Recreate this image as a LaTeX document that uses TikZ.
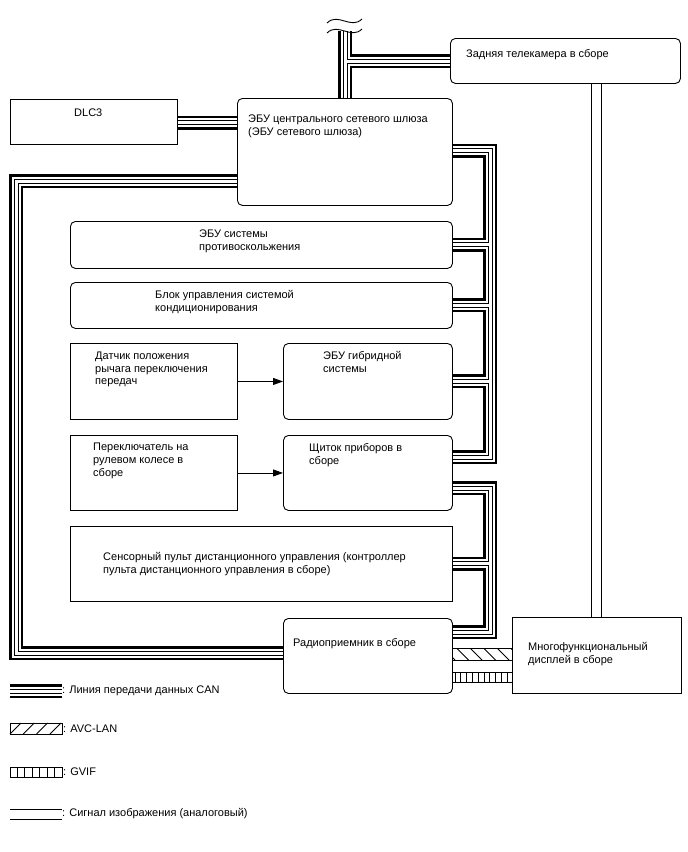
\documentclass[tikz,border=0pt]{standalone}
\usepackage{fontspec}
\setmainfont{Liberation Sans}
\usetikzlibrary{arrows.meta, positioning, calc, backgrounds}

% CAN line: drawn in four layers so that branches merge into the trunk
\newcommand{\canbus}[1]{%
  \draw[canA] #1; \draw[canB] #1; \draw[canC] #1; \draw[canD] #1;}

\begin{document}
\begin{tikzpicture}[x=1pt, y=-1pt,
    box/.style={draw, line width=0.9pt, fill=white, inner sep=0pt, anchor=north west},
    rbox/.style={box, rounded corners=5pt},
    txt/.style={anchor=north west, inner sep=0pt, align=left, font=\fontsize{11}{12.8}\selectfont},
    arr/.style={-{Triangle[length=10pt, width=7pt]}, line width=0.9pt},
    canA/.style={line width=14pt, line join=miter},
    canB/.style={line width=9pt, white, line join=miter},
    canC/.style={line width=5pt, line join=miter},
    canD/.style={line width=3pt, white, line join=miter},
    video/.style={double, double distance=9pt, line width=1pt},
    band/.style={line width=0.9pt}
  ]
  \useasboundingbox (0,0) rectangle (688,852);

  % units
  \node[rbox, minimum width=230pt, minimum height=45pt] (cam) at (450,38) {};
  \node[box, minimum width=167pt, minimum height=45pt] (dlc) at (10,99) {};
  \node[rbox, minimum width=215pt, minimum height=107pt] (gw) at (237,98) {};
  \node[rbox, minimum width=382pt, minimum height=47pt] (abs) at (70,221) {};
  \node[rbox, minimum width=382pt, minimum height=46pt] (ac) at (70,282) {};
  \node[box, minimum width=167pt, minimum height=76pt] (shift) at (70,343) {};
  \node[rbox, minimum width=169pt, minimum height=76pt] (hyb) at (283,343) {};
  \node[box, minimum width=167pt, minimum height=75pt] (steer) at (70,435) {};
  \node[rbox, minimum width=169pt, minimum height=75pt] (meter) at (283,435) {};
  \node[box, minimum width=382pt, minimum height=75pt] (touch) at (70,526) {};
  \node[rbox, minimum width=169pt, minimum height=75pt] (radio) at (283,618) {};
  \node[box, minimum width=169pt, minimum height=76pt] (mfd) at (512,617) {};

  \node[txt] at ($(cam.north west)+(16,11)$) {Задняя телекамера в сборе};
  \node[txt] at ($(dlc.north west)+(64,10)$) {DLC3};
  \node[txt] at ($(gw.north west)+(11,17)$) {ЭБУ центрального сетевого шлюза\\(ЭБУ сетевого шлюза)};
  \node[txt] at ($(abs.north west)+(129,9)$) {ЭБУ системы\\противоскольжения};
  \node[txt] at ($(ac.north west)+(85,8)$) {Блок управления системой\\кондиционирования};
  \node[txt] at ($(shift.north west)+(25,8.5)$) {Датчик положения\\рычага переключения\\передач};
  \node[txt] at ($(hyb.north west)+(40,8.5)$) {ЭБУ гибридной\\системы};
  \node[txt] at ($(steer.north west)+(23,8)$) {Переключатель на\\рулевом колесе в\\сборе};
  \node[txt] at ($(meter.north west)+(26,8)$) {Щиток приборов в\\сборе};
  \node[txt] at ($(touch.north west)+(33,26)$) {Сенсорный пульт дистанционного управления (контроллер\\пульта дистанционного управления в сборе)};
  \node[txt] at ($(radio.north west)+(10,20)$) {Радиоприемник в сборе};
  \node[txt] at ($(mfd.north west)+(16,25)$) {Многофункциональный\\дисплей в сборе};

  \draw[arr] (shift.east) -- (hyb.west);
  \draw[arr] (steer.east) -- (meter.west);

  % bus corners
  \coordinate (t1) at (345,31);
  \coordinate (t2) at (345,61);
  \coordinate (d1) at (200,122.5);
  \coordinate (l1) at (16,181);
  \coordinate (l2) at (16,653);
  \coordinate (r1) at (490,150.5);
  \coordinate (r2) at (490,457);
  \coordinate (r3) at (490,488);
  \coordinate (r4) at (490,632);

  \begin{scope}[on background layer]
    \canbus{(gw.north -| t1) -- (t1) (t2) -- (cam.west |- t2)
      (dlc.east |- d1) -- (gw.west |- d1)
      (gw.west |- l1) -- (l1) -- (l2) -- (radio.west |- l2)
      (gw.east |- r1) -- (r1) -- (r2) -- (meter.east |- r2)
      (abs.east) -- (abs.east -| r1)
      (ac.east) -- (ac.east -| r1)
      (hyb.east) -- (hyb.east -| r1)
      (meter.east |- r3) -- (r3) -- (r4) -- (radio.east |- r4)
      (touch.east) -- (touch.east -| r3)}
    \draw[video] (mfd.north) -- (mfd.north |- cam.south);
  \end{scope}

  % break mark
  \draw[line width=0.9pt] (327,23) .. controls (338,12) and (351,30) .. (362,19);
  \draw[line width=0.9pt] (327,33) .. controls (338,22) and (351,40) .. (362,29);

  % AVC-LAN and GVIF between radio and display
  \coordinate (avc) at (0,648);
  \coordinate (gvif) at (0,672);
  \draw[band] (radio.east |- avc) rectangle ($(mfd.west |- avc)+(0,12)$);
  \begin{scope}
    \clip (radio.east |- avc) rectangle ($(mfd.west |- avc)+(0,12)$);
    \foreach \x in {443,456.5,...,512} \draw[band] (\x,648) -- ++(12,12);
  \end{scope}
  \draw[band] (radio.east |- gvif) rectangle ($(mfd.west |- gvif)+(0,10)$);
  \foreach \x in {455,460.8,...,508} \draw[band] (\x,672) -- ++(0,10);

  % legend
  \canbus{(10,691) -- (62,691)}
  \node[txt, anchor=west] at (62,691) {: Линия передачи данных CAN};
  \draw[band] (10,723) rectangle (62,734);
  \foreach \x in {10,23.3,...,50} \draw[band] (\x,734) -- ++(11,-11);
  \node[txt, anchor=west] at (63,728.5) {: AVC-LAN};
  \draw[band] (10,767) rectangle (62,777);
  \foreach \x in {17.4,24.8,...,56} \draw[band] (\x,767) -- ++(0,10);
  \node[txt, anchor=west] at (63,772) {: GVIF};
  \draw[video] (10,814) -- (62,814);
  \node[txt, anchor=west] at (62,814) {: Сигнал изображения (аналоговый)};
\end{tikzpicture}
\end{document}
